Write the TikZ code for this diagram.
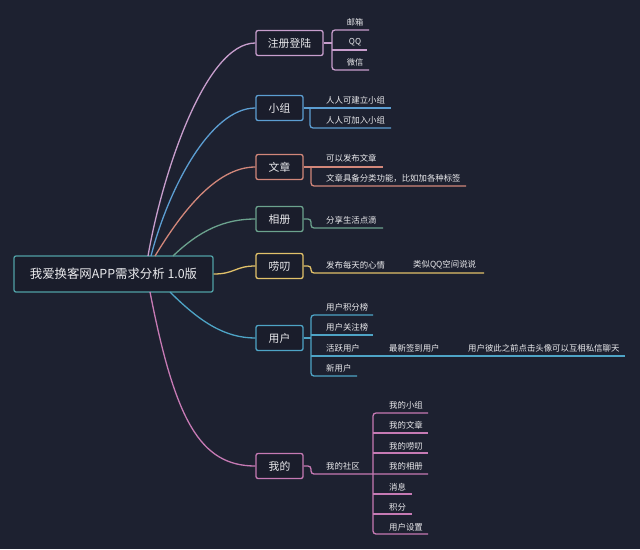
\documentclass[tikz,border=0pt]{standalone}
\usepackage{fontspec}
\setmainfont{Noto Sans CJK SC}
\definecolor{bgc}{RGB}{29,33,48}
\definecolor{boxfill}{RGB}{26,29,43}
\definecolor{txt}{RGB}{235,235,238}
\definecolor{croot}{RGB}{80,160,165}
\definecolor{creg}{RGB}{200,158,205}
\definecolor{cgrp}{RGB}{92,158,210}
\definecolor{cart}{RGB}{210,135,122}
\definecolor{calb}{RGB}{108,163,142}
\definecolor{ctalk}{RGB}{226,194,106}
\definecolor{cuser}{RGB}{78,164,198}
\definecolor{cme}{RGB}{198,122,180}
\tikzset{
  branchbox/.style={draw, line width=1.3pt, rounded corners=2pt, fill=boxfill,
    minimum height=25pt, minimum width=47pt, inner sep=2pt, text=txt,
    font=\fontsize{10.8}{12}\selectfont},
  subtxt/.style={anchor=west, inner sep=0pt, text=txt, font=\fontsize{8.4}{10}\selectfont},
  smalltxt/.style={inner sep=0pt, text=txt, font=\fontsize{8.2}{10}\selectfont},
  link/.style={line width=1.3pt},
  sub/.style={line width=1.3pt, rounded corners=3pt}
}
\begin{document}
\begin{tikzpicture}[x=1pt,y=-1pt]
\fill[bgc] (0,0) rectangle (640,549);
\useasboundingbox (0,0) rectangle (640,549);

% root
\node[draw=croot, line width=1.3pt, rounded corners=2pt, fill=boxfill,
  minimum width=199pt, minimum height=36pt, inner sep=0pt, text=txt,
  font=\fontsize{12.4}{14}\selectfont] (root) at (113.5,274) {我爱换客网APP需求分析 1.0版};

% branch boxes
\node[branchbox, draw=creg, minimum width=67pt] (b1) at (289.5,43) {注册登陆};
\node[branchbox, draw=cgrp] (b2) at (279.5,108) {小组};
\node[branchbox, draw=cart] (b3) at (279.5,167) {文章};
\node[branchbox, draw=calb] (b4) at (279.5,219) {相册};
\node[branchbox, draw=ctalk] (b5) at (279.5,266) {唠叨};
\node[branchbox, draw=cuser] (b6) at (279.5,338) {用户};
\node[branchbox, draw=cme] (b7) at (279.5,466) {我的};

% root anchors
\coordinate (r1) at (148,256);
\coordinate (r2) at (151,256);
\coordinate (r3) at (155,256);
\coordinate (r4) at (173,256);
\coordinate (r6) at (170,292);
\coordinate (r7) at (150,292);

% curves from root
\draw[link, creg] (r1) .. controls (162,175) and (205,43) .. (b1.west);
\draw[link, cgrp] (r2) .. controls (168,190) and (210,108) .. (b2.west);
\draw[link, cart] (r3) .. controls (180,215) and (215,167) .. (b3.west);
\draw[link, calb] (r4) .. controls (200,230) and (225,219) .. (b4.west);
\draw[link, ctalk] (root.east) .. controls (235,274) and (235,266) .. (b5.west);
\draw[link, cuser] (r6) .. controls (200,322) and (225,338) .. (b6.west);
\draw[link, cme] (r7) .. controls (175,420) and (200,466) .. (b7.west);

% 注册登陆
\draw[link, creg] (b1.east) -- (332,43);
\draw[sub, creg] (369,30) -- (332,30) -- (332,70) -- (369,70);
\draw[link, creg] (332,50) -- (367,50);
\node[smalltxt] (s11) at (355,22) {邮箱};
\node[smalltxt] (s12) at (355,42) {QQ};
\node[smalltxt] (s13) at (355,62) {微信};

% 小组
\draw[link, cgrp] (b2.east) -- (391,108);
\draw[sub, cgrp] (310,108) -- (310,128) -- (391,128);
\node[subtxt] (s21) at (326,100) {人人可建立小组};
\node[subtxt] (s22) at (326,120) {人人可加入小组};

% 文章
\draw[link, cart] (b3.east) -- (383,167);
\draw[sub, cart] (311,167) -- (311,186) -- (466,186);
\node[subtxt] (s31) at (326,158) {可以发布文章};
\node[subtxt] (s32) at (326,178) {文章具备分类功能，比如加各种标签};

% 相册
\draw[sub, calb] (b4.east) -- (311,219) -- (311,228) -- (383,228);
\node[subtxt] (s41) at (326,220) {分享生活点滴};

% 唠叨
\draw[sub, ctalk] (b5.east) -- (311,266) -- (311,273) -- (484,273);
\node[subtxt] (s51) at (326,265) {发布每天的心情};
\node[subtxt] (s52) at (413,265) {类似QQ空间说说};

% 用户
\draw[link, cuser] (b6.east) -- (311,338);
\draw[sub, cuser] (373,315) -- (311,315) -- (311,376) -- (357,376);
\draw[link, cuser] (311,335) -- (373,335);
\draw[link, cuser] (311,356) -- (625,356);
\node[subtxt] (s61) at (326,307) {用户积分榜};
\node[subtxt] (s62) at (326,327) {用户关注榜};
\node[subtxt] (s63) at (326,348) {活跃用户};
\node[subtxt] (s64) at (389,348) {最新签到用户};
\node[subtxt] (s65) at (468,348) {用户彼此之前点击头像可以互相私信聊天};
\node[subtxt] (s66) at (326,368) {新用户};

% 我的
\draw[sub, cme] (b7.east) -- (311,466) -- (311,474) -- (428,474);
\draw[sub, cme] (428,413) -- (373,413) -- (373,534) -- (428,534);
\draw[link, cme] (373,433) -- (428,433);
\draw[link, cme] (373,453) -- (428,453);
\draw[link, cme] (373,494) -- (412,494);
\draw[link, cme] (373,514) -- (412,514);
\node[subtxt] (s70) at (326,466) {我的社区};
\node[subtxt] (s71) at (389,405) {我的小组};
\node[subtxt] (s72) at (389,425) {我的文章};
\node[subtxt] (s73) at (389,446) {我的唠叨};
\node[subtxt] (s74) at (389,466) {我的相册};
\node[subtxt] (s75) at (389,487) {消息};
\node[subtxt] (s76) at (389,507) {积分};
\node[subtxt] (s77) at (389,527) {用户设置};
\end{tikzpicture}
\end{document}
